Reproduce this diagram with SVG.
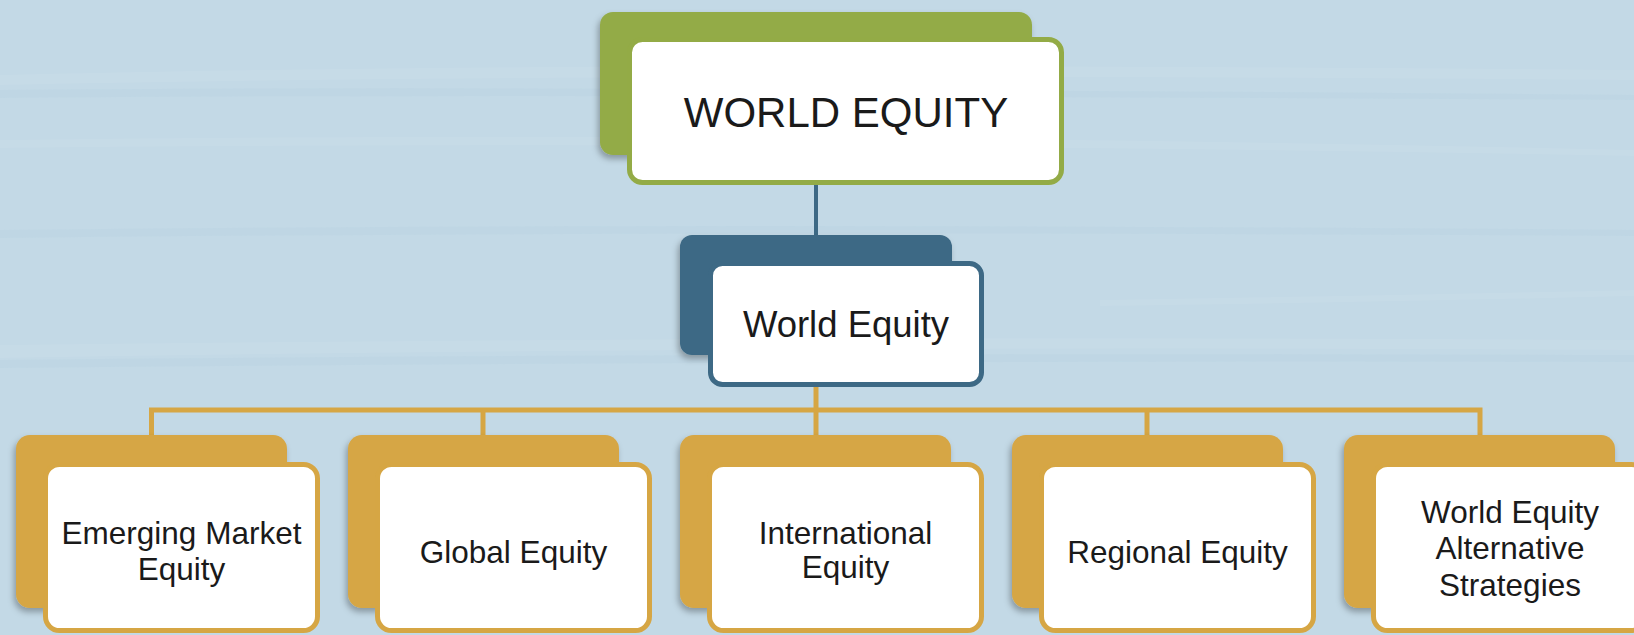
<svg xmlns="http://www.w3.org/2000/svg" width="1634" height="635" viewBox="0 0 1634 635">
<defs>
<style>
.txt{font-family:"Liberation Sans",Arial,sans-serif;fill:#1a1a1a;text-anchor:middle}
.front{fill:#ffffff;stroke-width:5}
.g-back{fill:#93ab46}
.b-back{fill:#3d6985}
.o-back{fill:#d6a644}
.g-front{stroke:#93ab46}
.b-front{stroke:#3d6985}
.o-front{stroke:#d6a644}
.conn-b{stroke:#3d6985;stroke-width:4;fill:none}
.conn-o{stroke:#d6a644;stroke-width:5;fill:none}
.streak{fill:#ffffff;opacity:0.06}
.streak2{fill:#9fc0d4;opacity:0.1}
</style>
<filter id="sh" x="-10%" y="-10%" width="125%" height="130%">
<feDropShadow dx="-2" dy="4" stdDeviation="3" flood-color="#000" flood-opacity="0.3"/>
</filter>
</defs>
<rect x="0" y="0" width="1634" height="635" fill="#c3d9e6"/>
<g id="background-streaks">
<path class="streak" d="M0 75 Q600 60 1634 70 L1634 80 Q600 72 0 85 Z"/>
<path class="streak2" d="M0 90 Q500 85 1634 95 L1634 100 Q500 93 0 98 Z"/>
<path class="streak" d="M0 140 Q800 130 1634 150 L1634 156 Q800 140 0 148 Z"/>
<path class="streak2" d="M0 230 Q700 222 1634 230 L1634 236 Q700 230 0 238 Z"/>
<path class="streak" d="M0 345 Q800 335 1634 340 L1634 350 Q800 345 0 358 Z"/>
<path class="streak2" d="M0 360 Q800 352 1634 355 L1634 362 Q800 360 0 368 Z"/>
<path class="streak" d="M1100 300 Q1400 295 1634 290 L1634 296 Q1400 302 1100 306 Z"/>
</g>
<g id="connectors">
<line class="conn-b" x1="816" y1="183" x2="816" y2="237"/>
<line class="conn-o" x1="816" y1="385" x2="816" y2="437"/>
<polyline class="conn-o" points="151.5,437 151.5,410 1480,410 1480,437"/>
<line class="conn-o" x1="483" y1="410" x2="483" y2="437"/>
<line class="conn-o" x1="1147" y1="410" x2="1147" y2="437"/>
</g>
<g id="node-top">
<rect class="g-back" x="600" y="12" width="432" height="143" rx="13" filter="url(#sh)"/>
<rect class="front g-front" x="629.5" y="39.5" width="432" height="143" rx="13"/>
<text class="txt" x="846" y="127" font-size="42">WORLD EQUITY</text>
</g>
<g id="node-mid">
<rect class="b-back" x="680" y="235" width="272" height="120" rx="12" filter="url(#sh)"/>
<rect class="front b-front" x="710.5" y="263.5" width="271" height="121" rx="12"/>
<text class="txt" x="846" y="337" font-size="36.5">World Equity</text>
</g>
<g id="node-emerging">
<rect class="o-back" x="16" y="435" width="271" height="173" rx="14" filter="url(#sh)"/>
<rect class="front o-front" x="45.5" y="464.5" width="272" height="166" rx="14"/>
<text class="txt" x="181.5" y="544" font-size="31.5">Emerging Market</text>
<text class="txt" x="181.5" y="580" font-size="31.5">Equity</text>
</g>
<g id="node-global">
<rect class="o-back" x="348" y="435" width="271" height="173" rx="14" filter="url(#sh)"/>
<rect class="front o-front" x="377.5" y="464.5" width="272" height="166" rx="14"/>
<text class="txt" x="513.5" y="563" font-size="31.5">Global Equity</text>
</g>
<g id="node-international">
<rect class="o-back" x="680" y="435" width="271" height="173" rx="14" filter="url(#sh)"/>
<rect class="front o-front" x="709.5" y="464.5" width="272" height="166" rx="14"/>
<text class="txt" x="845.5" y="544" font-size="31.5">International</text>
<text class="txt" x="845.5" y="578" font-size="31.5">Equity</text>
</g>
<g id="node-regional">
<rect class="o-back" x="1012" y="435" width="271" height="173" rx="14" filter="url(#sh)"/>
<rect class="front o-front" x="1041.5" y="464.5" width="272" height="166" rx="14"/>
<text class="txt" x="1177.5" y="563" font-size="31.5">Regional Equity</text>
</g>
<g id="node-alternative">
<rect class="o-back" x="1344" y="435" width="271" height="173" rx="14" filter="url(#sh)"/>
<rect class="front o-front" x="1373.5" y="464.5" width="272" height="166" rx="14"/>
<text class="txt" x="1510" y="523" font-size="31.5">World Equity</text>
<text class="txt" x="1510" y="559" font-size="31.5">Alternative</text>
<text class="txt" x="1510" y="596" font-size="31.5">Strategies</text>
</g>
</svg>
